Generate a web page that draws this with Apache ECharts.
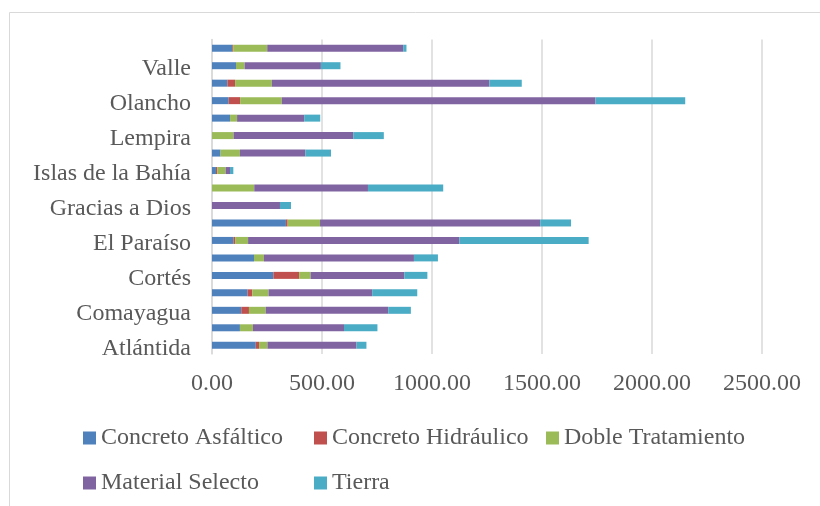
<!DOCTYPE html>
<html>
<head>
<meta charset="utf-8">
<script src="https://cdn.jsdelivr.net/npm/echarts@6/dist/echarts.min.js"></script>
<style>
  html, body { margin: 0; padding: 0; background: #fff; }
  #chart { width: 820px; height: 506px; }
</style>
</head>
<body>
<div id="chart"></div>
<script>
// departamentos, de abajo hacia arriba
var categories = ['Atlántida', 'Colón', 'Comayagua', 'Copán', 'Cortés', 'Choluteca',
    'El Paraíso', 'Francisco Morazán', 'Gracias a Dios', 'Intibucá', 'Islas de la Bahía',
    'La Paz', 'Lempira', 'Ocotepeque', 'Olancho', 'Santa Bárbara', 'Valle', 'Yoro'];

var concretoAsfaltico  = [199, 127, 133, 162, 279, 191, 97, 336, 0, 0, 18, 39, 0, 82, 76, 70, 109, 92];
var concretoHidraulico = [15, 0, 35, 21, 117, 0, 8, 8, 0, 0, 6, 0, 0, 0, 52, 35, 0, 4];
var dobleTratamiento   = [38, 59, 76, 74, 52, 45, 59, 147, 0, 192, 38, 88, 98, 32, 189, 167, 39, 155];
var materialSelecto    = [405, 414, 557, 471, 426, 682, 960, 1001, 309, 517, 20, 297, 544, 305, 1426, 989, 347, 618];
var tierra             = [45, 152, 103, 205, 105, 109, 588, 140, 50, 342, 15, 117, 139, 73, 408, 147, 89, 15];

var seriesNames = ['Concreto Asfáltico', 'Concreto Hidráulico', 'Doble Tratamiento', 'Material Selecto', 'Tierra'];
var seriesData = [concretoAsfaltico, concretoHidraulico, dobleTratamiento, materialSelecto, tierra];
var colors = ['#4F81BD', '#C0504D', '#9BBB59', '#8064A2', '#4BACC6'];

var fontFam = '"Liberation Serif", serif';
var txtColor = '#595959';

// leyenda en cuadricula: 3 columnas, 2 filas
var legendPos = [[83, 426], [314, 426], [546, 426], [83, 471], [314, 471]];
var legends = seriesNames.map(function (n, i) {
    return {
        data: [n],
        left: legendPos[i][0],
        top: legendPos[i][1],
        padding: 0,
        itemWidth: 13,
        itemHeight: 13,
        itemGap: 0,
        icon: 'rect',
        textStyle: { fontFamily: fontFam, fontSize: 24, color: txtColor }
    };
});

var series = seriesNames.map(function (n, i) {
    return {
        name: n,
        type: 'bar',
        stack: 'total',
        barWidth: 7,
        itemStyle: { color: colors[i] },
        data: seriesData[i]
    };
});

var myChart = echarts.init(document.getElementById('chart'));
myChart.setOption({
    animation: false,
    color: colors,
    graphic: [{
        type: 'rect',
        shape: { x: 9.5, y: 12.5, width: 900, height: 600 },
        style: { fill: 'none', stroke: '#d9d9d9', lineWidth: 1 },
        silent: true
    }],
    legend: legends,
    grid: { left: 212, top: 39.5, width: 550, height: 314.5 },
    xAxis: {
        type: 'value',
        min: 0,
        max: 2500,
        interval: 500,
        axisLine: { show: false },
        axisTick: { show: false },
        splitLine: { lineStyle: { color: '#d9d9d9', width: 1.5 } },
        axisLabel: {
            margin: 18,
            fontFamily: fontFam,
            fontSize: 24,
            color: txtColor,
            formatter: function (v) { return v.toFixed(2); }
        }
    },
    yAxis: {
        type: 'category',
        data: categories,
        axisLine: { lineStyle: { color: '#d9d9d9', width: 1.5 } },
        axisTick: { show: false },
        axisLabel: {
            interval: 1,
            margin: 21,
            formatter: function (v) { return '{c|' + v + '}'; },
            rich: {
                c: {
                    fontFamily: fontFam,
                    fontSize: 24,
                    color: txtColor,
                    padding: [6, 0, 0, 0]
                }
            }
        }
    },
    series: series
});
</script>
</body>
</html>
